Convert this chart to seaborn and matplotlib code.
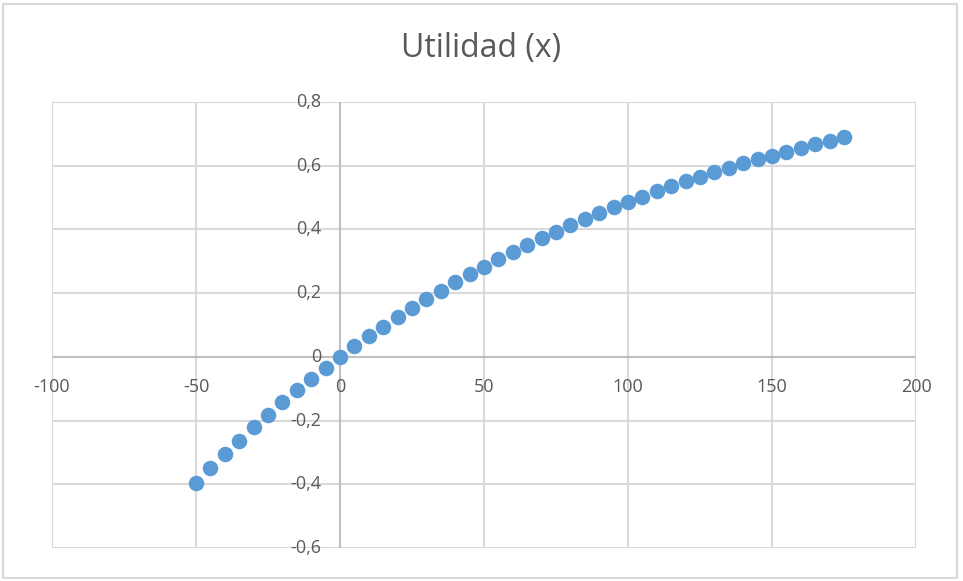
import matplotlib
matplotlib.use("Agg")
import matplotlib.pyplot as plt
import seaborn as sns
import pandas as pd
from matplotlib.patches import Rectangle

x_values = [-50, -45, -40, -35, -30, -25, -20, -15, -10, -5, 0, 5, 10, 15, 20, 25,
            30, 35, 40, 45, 50, 55, 60, 65, 70, 75, 80, 85, 90, 95, 100, 105, 110,
            115, 120, 125, 130, 135, 140, 145, 150, 155, 160, 165, 170, 175]
y_values = [-0.396, -0.350, -0.306, -0.263, -0.221, -0.181, -0.143, -0.105, -0.069,
            -0.034, 0.0, 0.033, 0.064, 0.095, 0.125, 0.153, 0.181, 0.208, 0.234,
            0.259, 0.283, 0.307, 0.330, 0.352, 0.373, 0.393, 0.413, 0.433, 0.451,
            0.469, 0.487, 0.503, 0.520, 0.535, 0.551, 0.565, 0.580, 0.593, 0.607,
            0.620, 0.632, 0.644, 0.656, 0.667, 0.678, 0.689]
x_ticks = [-100, -50, 0, 50, 100, 150, 200]
x_labels = ["-100", "-50", "0", "50", "100", "150", "200"]
y_ticks = [-0.6, -0.4, -0.2, 0.0, 0.2, 0.4, 0.6, 0.8]
y_labels = ["-0,6", "-0,4", "-0,2", "0", "0,2", "0,4", "0,6", "0,8"]
title = "Utilidad (x)"

df = pd.DataFrame({"x": x_values, "y": y_values})

sns.set_theme(style="white")
plt.rcParams['font.family'] = ['Open Sans', 'DejaVu Sans']

fig = plt.figure(figsize=(9.63, 5.81), dpi=100)
ax = fig.add_axes([52/963, 1-548/581, (916-52)/963, (548-102)/581])

grid_c = "#d9d9d9"
for xt in x_ticks:
    if xt != 0:
        ax.axvline(xt, color=grid_c, lw=1.5, zorder=1)
for yt in y_ticks:
    if yt != 0:
        ax.axhline(yt, color=grid_c, lw=1.5, zorder=1)
ax.axvline(0, color="#bfbfbf", lw=1.5, zorder=1)
ax.axhline(0, color="#bfbfbf", lw=1.5, zorder=1)

sns.scatterplot(data=df, x="x", y="y", ax=ax, s=125, color="#5b9bd5",
                edgecolor="#5b9bd5", linewidth=0, zorder=3)

ax.set_xlim(-100, 200)
ax.set_ylim(-0.6, 0.8)
ax.set_xticks([])
ax.set_yticks([])
ax.set_xlabel("")
ax.set_ylabel("")
for s in ax.spines.values():
    s.set_visible(False)

lab_c = "#595959"
for xt, lb in zip(x_ticks, x_labels):
    ax.annotate(lb, xy=(xt, 0), xytext=(0, -21), textcoords="offset pixels",
                ha="center", va="top", fontsize=13, color=lab_c, annotation_clip=False)
for yt, lb in zip(y_ticks, y_labels):
    ax.annotate(lb, xy=(0, yt), xytext=(-19, 0), textcoords="offset pixels",
                ha="right", va="center", fontsize=13, color=lab_c, annotation_clip=False)

fig.text(0.5, 1-48/581, title, ha="center", va="center", fontsize=23, color=lab_c)

fig.patches.append(Rectangle((3/963, 3/581), 954/963, 574/581, transform=fig.transFigure,
                             fill=False, edgecolor="#d9d9d9", lw=1.5))

fig.savefig("out.png", dpi=100)
